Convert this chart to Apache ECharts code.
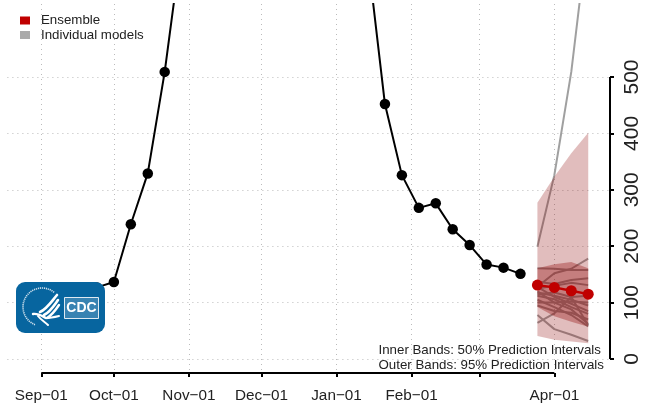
<!DOCTYPE html>
<html><head><meta charset="utf-8">
<style>html,body{margin:0;padding:0;background:#fff}#c{width:648px;height:408px}</style>
<script src="https://cdn.jsdelivr.net/npm/echarts@6/dist/echarts.min.js"></script>
</head><body><div id="c"></div>
<script>
const xTickDates = ['2020-09-01','2020-10-01','2020-11-01','2020-12-01','2021-01-01','2021-02-01','2021-03-01','2021-04-01'];
const xTickLabels = ['Sep\u221201','Oct\u221201','Nov\u221201','Dec\u221201','Jan\u221201','Feb\u221201','','Apr\u221201'];
const yTicks = [0,100,200,300,400,500];

const obsDates = ['2020-09-24','2020-10-01','2020-10-08','2020-10-15','2020-10-22','2020-10-29','2021-01-14','2021-01-21','2021-01-28','2021-02-04','2021-02-11','2021-02-18','2021-02-25','2021-03-04','2021-03-11','2021-03-18'];
const obsValues = [127,136.5,239,329,509,736,709,452,326,268,276,230,202,167.5,162,151];

const fcDates = ['2021-03-25','2021-04-01','2021-04-08','2021-04-15'];
const ensemble = [131,127,121,115];
const inner50Low = [92,76,66,57];
const inner50High = [161,168,172,161];
const outer95Low = [41,34,31,28];
const outer95High = [277,323,365,401];

const modelSteep = [199,326,509,760];
const modelLow = [78,53,43,32];
const modelCross = [64,81,110,60];
const modelRise = [128,152,160,178];
const modelFlat = [161,160,158,158];
const modelA = [137,133,140,143];
const modelB = [125,130,135,131];
const modelC = [118,112,105,95];
const modelD = [112,106,92,80];
const modelE = [120,100,88,62];
const modelF = [105,92,78,58];
const modelG = [128,110,98,85];
const modelH = [100,100,102,100];
const modelI = [115,118,110,112];
const modelJ = [95,85,82,70];
const models = [modelSteep,modelLow,modelCross,modelRise,modelFlat,modelA,modelB,modelC,modelD,modelE,modelF,modelG,modelH,modelI,modelJ];

const xMin = '2020-08-18', xMax = '2021-04-24';
const yMin = -24.8, yMax = 629.4;
const FONT = '"Liberation Sans", Arial, sans-serif';
const toDay = s => { const p = s.split('-').map(Number); return Math.round((Date.UTC(p[0],p[1]-1,p[2]) - Date.UTC(2020,8,1))/86400000); };
const labelByDay = {};
xTickDates.forEach((d,i)=>{ labelByDay[toDay(d)] = xTickLabels[i]; });

function band(name, lo, hi, color){
  return {
    type:'custom', name, z:3, silent:true, clip:true,
    encode:{x:0,y:[1,2]},
    data: fcDates.map((d,i)=>[toDay(d),lo[i],hi[i]]),
    renderItem(params, api){
      if(params.dataIndex!==0) return null;
      const up = fcDates.map((d,i)=>api.coord([toDay(d),hi[i]]));
      const dn = fcDates.map((d,i)=>api.coord([toDay(d),lo[i]])).reverse();
      return {type:'polygon', shape:{points:up.concat(dn)}, style:{fill:color}};
    }
  };
}
const series = [];
models.forEach(m=>series.push({
  type:'line', name:'Individual models', z:2, silent:true, symbol:'none',
  lineStyle:{color:'#a0a0a0',width:2}, itemStyle:{color:'#aaaaaa'},
  data: fcDates.map((d,i)=>[toDay(d),m[i]])
}));
series.push(band('95% interval',outer95Low,outer95High,'rgba(140,0,0,0.26)'));
series.push(band('50% interval',inner50Low,inner50High,'rgba(140,0,0,0.33)'));
series.push({
  type:'line', name:'Ensemble', z:5, silent:true, symbol:'circle', symbolSize:11,
  lineStyle:{color:'#c00000',width:2.5}, itemStyle:{color:'#c00000'},
  data: fcDates.map((d,i)=>[toDay(d),ensemble[i]])
});
series.push({
  type:'line', name:'Observed', z:5, silent:true, symbol:'circle', symbolSize:10.5,
  lineStyle:{color:'#000',width:2}, itemStyle:{color:'#000'},
  data: obsDates.map((d,i)=>[toDay(d),obsValues[i]])
});
series.push({
  type:'line', name:'x axis rule', z:4, silent:true, symbol:'none', clip:false,
  lineStyle:{color:'#000',width:2},
  data:[[toDay(xTickDates[0]),yMin],[toDay(xTickDates[xTickDates.length-1]),yMin]]
});
series.push({
  type:'line', name:'y axis rule', z:4, silent:true, symbol:'none', clip:false,
  lineStyle:{color:'#000',width:2},
  data:[[toDay(xMax),yTicks[0]],[toDay(xMax),yTicks[yTicks.length-1]]]
});

const W = '#ffffff';
const wing = (x1,y1,cpx1,cpy1,cpx2,cpy2,x2,y2,w)=>({type:'bezierCurve', z:101, silent:true, shape:{x1,y1,cpx1,cpy1,cpx2,cpy2,x2,y2}, style:{fill:'none',stroke:W,lineWidth:w,lineCap:'round'}});
const graphic = [
  {type:'rect', z:100, silent:true, shape:{x:16,y:282,width:89,height:51,r:9}, style:{fill:'#07659f'}},
  {type:'arc', z:101, silent:true, shape:{cx:42,cy:307,r:19,startAngle:Math.PI*0.62,endAngle:Math.PI*1.72,clockwise:true}, style:{fill:'none',stroke:'#cfe0ec',lineWidth:1.6,lineDash:[1.2,0.8]}},
  wing(57,295,51,302,47,309,40,312,2.6),
  wing(58,300,53,307,50,312,44,315,2.6),
  wing(59,305,55,311,52,315,47,318,2.4),
  wing(33,314,38,313,42,316,46,318,2.4),
  wing(46,318,50,318,55,317,59,316,2),
  wing(38,316,41,320,45,322,48,325,2),
  {type:'rect', z:101, silent:true, shape:{x:64.5,y:297.5,width:34,height:21}, style:{fill:'rgba(255,255,255,0.2)',stroke:'#dfeaf2',lineWidth:1}},
  {type:'text', z:102, silent:true, x:81.5, y:308, style:{text:'CDC',fill:W,font:'bold 14px '+FONT,textAlign:'center',textVerticalAlign:'middle'}},
  {type:'text', z:20, silent:true, x:378.5, y:350.5, style:{text:'Inner Bands: 50% Prediction Intervals',fill:'#222',font:'13.3px '+FONT,textAlign:'left',textVerticalAlign:'middle'}},
  {type:'text', z:20, silent:true, x:378.5, y:365.5, style:{text:'Outer Bands: 95% Prediction Intervals',fill:'#222',font:'13.3px '+FONT,textAlign:'left',textVerticalAlign:'middle'}}
];

const chart = echarts.init(document.getElementById('c'),null,{renderer:'canvas'});
chart.setOption({
  animation:false,
  backgroundColor:'#fff',
  grid:{left:7.4,right:38,top:4,bottom:35,containLabel:false},
  legend:{
    orient:'vertical', left:20, top:14, padding:0, itemWidth:10, itemHeight:8, itemGap:1.5, icon:'rect',
    selectedMode:false, textStyle:{fontFamily:FONT,fontSize:13.3,color:'#222',padding:[0,0,0,6]},
    data:[{name:'Ensemble',itemStyle:{color:'#c00000',borderWidth:0}},{name:'Individual models',itemStyle:{color:'#aaaaaa',borderWidth:0}}]
  },
  xAxis:{
    type:'value', min:toDay(xMin), max:toDay(xMax),
    axisLine:{show:false,onZero:false},
    axisTick:{show:true,length:4,lineStyle:{color:'#000',width:2},customValues:xTickDates.map(toDay)},
    axisLabel:{customValues:xTickDates.map(toDay),margin:15,hideOverlap:false,showMinLabel:true,showMaxLabel:true,
      fontFamily:FONT,fontSize:15.3,color:'#222',formatter:v=>labelByDay[v]||''},
    splitLine:{show:true,lineStyle:{color:'#bbbbbb',type:[1,4],width:1}}
  },
  yAxis:{
    type:'value', position:'right', min:yMin, max:yMax,
    axisLine:{show:false,onZero:false},
    axisTick:{show:true,length:4,lineStyle:{color:'#000',width:2},customValues:yTicks},
    axisLabel:{customValues:yTicks,rotate:90,margin:12,fontFamily:FONT,fontSize:21,color:'#222',formatter:v=>String(v)},
    splitLine:{show:true,lineStyle:{color:'#bbbbbb',type:[1,4],width:1}}
  },
  series, graphic
});
</script></body></html>
